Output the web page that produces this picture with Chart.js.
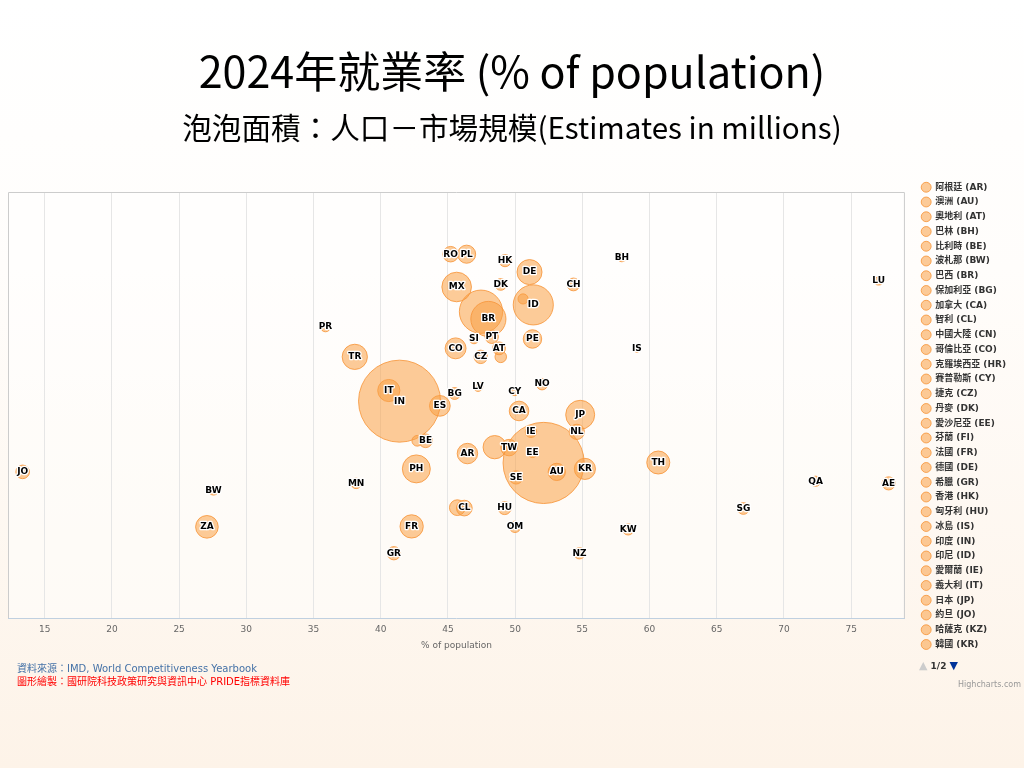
<!DOCTYPE html>
<html lang="zh-Hant">
<head>
<meta charset="utf-8">
<title>2024年就業率 (% of population)</title>
<script src="https://cdn.jsdelivr.net/npm/chart.js@4.4.1/dist/chart.umd.min.js"></script>
<style>
    html, body { margin: 0; padding: 0; }
    body {
        width: 1024px;
        height: 768px;
        overflow: hidden;
        background: linear-gradient(to bottom, #ffffff 0%, #fffdfb 35%, #fdf3e8 100%);
        font-family: "DejaVu Sans", "Noto Sans CJK TC", sans-serif;
    }
    #wrap { position: relative; width: 1024px; height: 768px; }
    #wrap canvas { position: absolute; left: 0; top: 0; }
    .heading {
        position: absolute; left: 0; width: 1024px; text-align: center; white-space: nowrap;
        font-family: "Noto Sans CJK TC", "Noto Sans", sans-serif; color: #000; line-height: 1.2;
    }
    #title { top: 43.6px; font-size: 43px; }
    #subtitle { top: 108.5px; font-size: 29.6px; }
    .note { position: absolute; left: 17px; font-size: 10px; white-space: nowrap; }
    #source { top: 660px; color: #4572a7; }
    #maker { top: 673px; color: #ff0000; }
    #pager { position: absolute; left: 919px; top: 659px; font-size: 9px; font-weight: bold; color: #333; white-space: nowrap; }
    #pager .off { color: #cccccc; font-size: 11px; }
    #pager .on { color: #003399; font-size: 11px; }
    #credit { position: absolute; left: 958px; top: 680px; font-size: 8px; color: #999; white-space: nowrap; }
</style>
</head>
<body>
<div id="wrap">
    <canvas id="chart" width="1024" height="768"></canvas>
    <div id="title" class="heading">2024年就業率 (% of population)</div>
    <div id="subtitle" class="heading">泡泡面積：人口－市場規模(Estimates in millions)</div>
    <div id="source" class="note">資料來源：IMD, World Competitiveness Yearbook</div>
    <div id="maker" class="note">圖形繪製：國研院科技政策研究與資訊中心 PRIDE指標資料庫</div>
    <div id="pager"><span class="off">▲</span> 1/2 <span class="on">▼</span></div>
    <div id="credit">Highcharts.com</div>
</div>
<script>
// Ülke kodları ve adları (lejant sırası)
const codes = ['AR', 'AU', 'AT', 'BH', 'BE', 'BW', 'BR', 'BG', 'CA', 'CL', 'CN', 'CO', 'HR', 'CY', 'CZ', 'DK',
    'EE', 'FI', 'FR', 'DE', 'GR', 'HK', 'HU', 'IS', 'IN', 'ID', 'IE', 'IT', 'JP', 'JO', 'KZ', 'KR', 'KW',
    'LV', 'LT', 'LU', 'MX', 'MN', 'NL', 'NZ', 'NO', 'OM', 'PE', 'PH', 'PL', 'PT', 'PR', 'QA', 'RO', 'SG',
    'SI', 'ZA', 'ES', 'SE', 'CH', 'TW', 'TH', 'TR', 'AE', 'GB', 'US'];

const names = ['阿根廷', '澳洲', '奧地利', '巴林', '比利時', '波札那', '巴西', '保加利亞', '加拿大', '智利', '中國大陸', '哥倫比亞',
    '克羅埃西亞', '賽普勒斯', '捷克', '丹麥', '愛沙尼亞', '芬蘭', '法國', '德國', '希臘', '香港', '匈牙利', '冰島', '印度', '印尼',
    '愛爾蘭', '義大利', '日本', '約旦', '哈薩克', '韓國', '科威特', '拉脫維亞', '立陶宛', '盧森堡', '墨西哥', '蒙古', '荷蘭', '紐西蘭',
    '挪威', '阿曼', '秘魯', '菲律賓', '波蘭', '葡萄牙', '波多黎各', '卡達', '羅馬尼亞', '新加坡', '斯洛維尼亞', '南非', '西班牙',
    '瑞典', '瑞士', '台灣', '泰國', '土耳其', '阿拉伯聯合大公國', '英國', '美國'];

// İstihdam oranı (% of population) - x ekseni
const employment = [46.45, 53.10, 48.80, 57.94, 43.34, 27.56, 48.01, 45.50, 50.29, 46.22, 52.12, 45.57, 42.72, 49.97, 47.44, 48.93,
    51.29, 48.93, 42.30, 51.07, 40.98, 49.25, 49.22, 59.06, 41.40, 51.35, 51.18, 40.60, 54.84, 13.36, 45.70, 55.19, 58.41,
    47.24, 50.59, 77.04, 45.65, 38.17, 54.59, 54.79, 52.00, 49.99, 51.29, 42.65, 46.39, 48.26, 35.89, 72.35, 45.20, 66.98,
    46.94, 27.07, 44.40, 50.07, 54.34, 49.55, 60.65, 38.07, 77.79, 48.48, 47.46];

// Dikey konum (gizli y ekseni)
const yValue = [38.6, 34.3, 63.3, 84.7, 41.6, 30.0, 70.2, 52.7, 48.6, 25.8, 36.4, 63.3, 41.6, 53.2, 61.3, 78.3,
    38.7, 61.3, 21.5, 81.2, 15.2, 83.9, 25.8, 63.2, 50.9, 73.5, 43.7, 53.4, 47.7, 34.3, 25.9, 35.0, 20.8,
    54.3, 74.9, 79.1, 77.7, 31.6, 43.7, 15.2, 54.9, 21.4, 65.5, 35.0, 85.4, 66.0, 68.4, 32.1, 85.4, 25.7,
    65.5, 21.4, 49.8, 33.0, 78.3, 40.0, 36.5, 61.3, 31.6, 40.1, 71.9];

// Nüfus (milyon) - kabarcık alanı
const population = [46.7, 27.2, 9.1, 1.6, 11.8, 2.4, 203, 6.4, 41.0, 19.8, 1409, 50.0, 3.9, 1.0, 10.9, 6.0,
    1.4, 5.6, 68.4, 83.3, 10.4, 7.5, 9.6, 0.39, 1441, 281, 5.3, 59.0, 124, 11.5, 20.0, 51.7, 4.9,
    1.9, 2.9, 0.67, 131, 3.5, 17.9, 5.3, 5.6, 5.2, 34.0, 113, 32.0, 10.5, 3.2, 3.0, 19.0, 6.0,
    2.1, 63.0, 48.6, 10.6, 8.9, 23.4, 66.0, 85.6, 10.0, 68.3, 337];

// X ekseni etiketleri
const xTicks = [15, 20, 25, 30, 35, 40, 45, 50, 55, 60, 65, 70, 75];

// Etiketi çakıştığı için gösterilmeyen kabarcıklar
const hiddenLabels = ['CN', 'US', 'GB', 'FI', 'HR', 'KZ', 'LT'];

// Lejantın ilk sayfasında görünen öğe sayısı
const legendPageSize = 32;

const FONT = '"DejaVu Sans", "Noto Sans CJK TC", sans-serif';

/**
 * Nüfusu kabarcık yarıçapına çevirir (alan orantılı)
 */
const zMin = Math.min(...population);
const zMax = Math.max(...population);
function bubbleRadius(z) {
    const minSize = 7;
    const maxSize = 82;
    const pos = (z - zMin) / (zMax - zMin);
    return (minSize + Math.sqrt(pos) * (maxSize - minSize)) / 2;
}

const datasets = codes.map((code, i) => ({
    label: `${names[i]} (${code})`,
    code: code,
    data: [{ x: employment[i], y: yValue[i], r: bubbleRadius(population[i]) }],
    backgroundColor: 'rgba(250, 160, 70, 0.55)',
    borderColor: 'rgba(247, 150, 60, 0.85)',
    borderWidth: 1,
    hoverBorderWidth: 1
}));

// Çizim alanı arka planı ve çerçevesi
const plotAreaPlugin = {
    id: 'plotArea',
    beforeDraw(chart) {
        const { ctx, chartArea: a } = chart;
        ctx.save();
        ctx.fillStyle = 'rgba(255, 255, 255, 0.45)';
        ctx.fillRect(a.left, a.top, a.right - a.left, a.bottom - a.top);
        ctx.restore();
    },
    beforeDatasetsDraw(chart) {
        const { ctx, chartArea: a } = chart;
        ctx.save();
        ctx.strokeStyle = '#cccccc';
        ctx.lineWidth = 1;
        ctx.beginPath();
        ctx.moveTo(a.left + 0.5, a.bottom);
        ctx.lineTo(a.left + 0.5, a.top + 0.5);
        ctx.lineTo(a.right - 0.5, a.top + 0.5);
        ctx.lineTo(a.right - 0.5, a.bottom);
        ctx.stroke();
        ctx.restore();
    }
};

// Kabarcık üzerindeki ülke kodları
const bubbleLabelPlugin = {
    id: 'bubbleLabels',
    afterDatasetsDraw(chart) {
        const { ctx } = chart;
        ctx.save();
        ctx.font = `bold 9px ${FONT}`;
        ctx.textAlign = 'center';
        ctx.textBaseline = 'middle';
        ctx.lineJoin = 'round';
        chart.data.datasets.forEach((ds, i) => {
            if (hiddenLabels.includes(ds.code)) return;
            const el = chart.getDatasetMeta(i).data[0];
            if (!el) return;
            ctx.strokeStyle = '#ffffff';
            ctx.lineWidth = 2.5;
            ctx.strokeText(ds.code, el.x, el.y);
            ctx.fillStyle = '#000000';
            ctx.fillText(ds.code, el.x, el.y);
        });
        ctx.restore();
    }
};

const chart = new Chart(document.getElementById('chart'), {
    type: 'bubble',
    data: { datasets: datasets },
    options: {
        responsive: false,
        animation: false,
        layout: { autoPadding: false, padding: { left: 8, right: 8, top: 177, bottom: 94 } },
        plugins: {
            legend: {
                position: 'right',
                align: 'start',
                fullSize: true,
                labels: {
                    font: { family: FONT, size: 9, weight: 'bold' },
                    color: '#333333',
                    usePointStyle: true,
                    pointStyle: 'circle',
                    boxWidth: 10,
                    boxHeight: 7,
                    padding: 5.75,
                    filter: (item) => item.datasetIndex < legendPageSize
                }
            },
            tooltip: { enabled: false }
        },
        scales: {
            x: {
                type: 'linear',
                min: 12.27,
                max: 79.0,
                afterBuildTicks: (scale) => {
                    scale.ticks = xTicks.map(v => ({ value: v }));
                },
                afterFit: (scale) => { scale.height = 56; },
                ticks: { color: '#666666', font: { family: FONT, size: 9 }, padding: 6 },
                grid: { color: '#e6e6e6', drawTicks: false },
                border: { color: '#c0d0e0' },
                title: {
                    display: true,
                    text: '% of population',
                    color: '#666666',
                    font: { family: FONT, size: 9 },
                    padding: { top: 0, bottom: 23 }
                }
            },
            y: {
                type: 'linear',
                min: 0,
                max: 100,
                display: false
            },
            // Çizim alanının üstünde ve sağında boşluk bırakan görünmez eksenler
            topGap: {
                type: 'linear',
                axis: 'x',
                position: 'top',
                display: true,
                ticks: { display: false },
                grid: { display: false },
                border: { display: false },
                afterFit: (scale) => { scale.height = 15; }
            },
            rightGap: {
                type: 'linear',
                axis: 'y',
                position: 'right',
                display: true,
                ticks: { display: false },
                grid: { display: false },
                border: { display: false },
                afterFit: (scale) => { scale.width = 11; }
            }
        }
    },
    plugins: [plotAreaPlugin, bubbleLabelPlugin]
});
</script>
</body>
</html>
